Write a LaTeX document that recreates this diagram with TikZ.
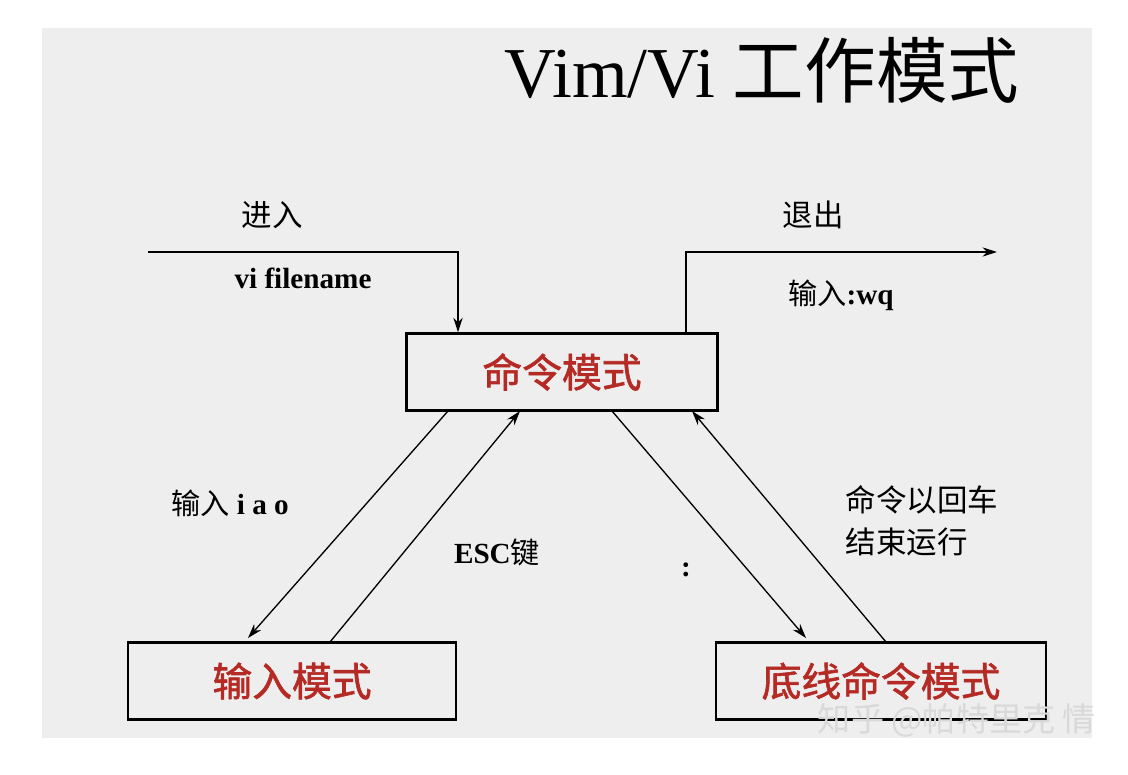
\documentclass[tikz,border=0pt]{standalone}
\usepackage{fontspec}
\setmainfont{Liberation Serif}
\newfontfamily\cjk{Noto Sans CJK SC}
\newfontfamily\cjkmode{Noto Sans CJK SC}[FakeBold=1.5]
\usetikzlibrary{arrows.meta}
\definecolor{modered}{HTML}{B52A25}
\begin{document}
\begin{tikzpicture}[x=0.0265cm,y=-0.0265cm,
  box/.style={draw=black,line width=1.8pt,minimum width=#1*0.0265cm,minimum height=77*0.0265cm,inner sep=0pt},
  mode/.style={text=modered,font=\cjkmode\fontsize{30}{32}\selectfont},
  lbl/.style={font=\fontsize{22}{26}\selectfont\bfseries},
  arr/.style={-{Stealth[length=11pt,width=7pt]},line width=1pt}]
\useasboundingbox (0,0) rectangle (1128,774);
\fill[gray!13] (42,28) rectangle (1092,738);
\node[font=\fontsize{54}{56}\selectfont] (title) at (762,70) {Vim/Vi {\cjk 工作模式}};
\node[box=311,mode] (cmd) at (562,372) {命令模式};
\node[box=328,mode] (ins) at (292,681) {输入模式};
\node[box=330,mode] (last) at (881,681) {底线命令模式};
\coordinate (in0) at (148,252);
\coordinate (in1) at (458,252);
\coordinate (out1) at (686,252);
\coordinate (out0) at (997,252);
\draw[arr] (in0) -- (in1) -- (in1 |- cmd.north);
\draw[arr] (out1 |- cmd.north) -- (out1) -- (out0);
\draw[arr] (448,411) -- (248,638);
\draw[arr] (330,642) -- (520,411);
\draw[arr] (612,411) -- (806,638);
\draw[arr] (886,642) -- (692,411);
\node[font=\cjk\fontsize{23}{26}\selectfont] (t1) at (272,215) {进入};
\node[lbl] (t2) at (303,278) {vi filename};
\node[font=\cjk\fontsize{23}{26}\selectfont] (t3) at (813,215) {退出};
\node[lbl] (t4) at (841,295) {{\cjk\mdseries 输入}:wq};
\node[lbl] (t5) at (230,503) {{\cjk\mdseries 输入} i a o};
\node[lbl] (t6) at (497,552) {ESC{\cjk\mdseries 键}};
\node[lbl] (t7) at (686,570) {:};
\node[font=\cjk\fontsize{23}{32}\selectfont,align=left] (t8) at (922,521) {命令以回车\\结束运行};
\node[font=\cjk\fontsize{25}{28}\selectfont,text=gray!30] (wm) at (957,720) {知乎 @帕特里克 情};
\end{tikzpicture}
\end{document}
